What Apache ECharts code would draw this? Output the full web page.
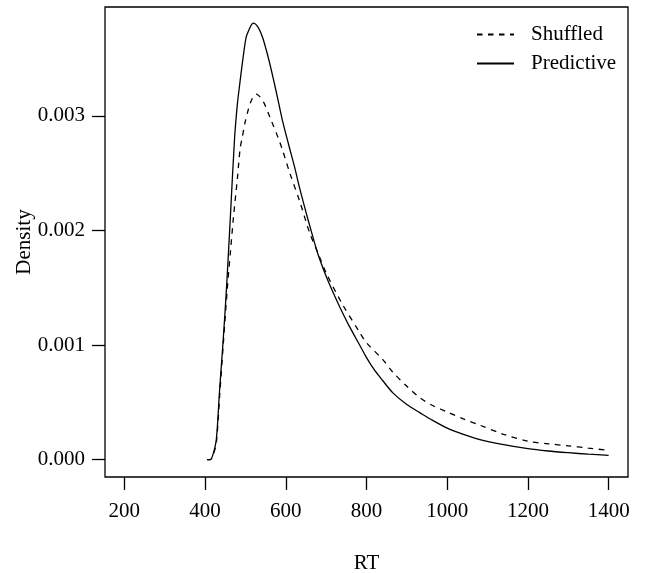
<!DOCTYPE html>
<html>
<head>
<meta charset="utf-8">
<script src="https://cdn.jsdelivr.net/npm/echarts@6/dist/echarts.min.js"></script>
<style>
  html, body { margin: 0; padding: 0; background: #fff; }
  #chart { width: 646px; height: 573px; }
</style>
</head>
<body>
<div id="chart"></div>
<script>
var myChart = echarts.init(document.getElementById("chart"));

// values
const xTicks = [200, 400, 600, 800, 1000, 1200, 1400];
const yTicks = [0, 0.001, 0.002, 0.003];

const predRT = [
  405, 413, 420, 428, 436, 445, 453, 463, 473, 480, 487, 495, 502, 510, 516,
  521, 528, 535, 543, 552, 560, 570, 580, 593, 607, 622, 635, 650, 665, 680,
  700, 717, 734, 758, 783, 800, 820, 840, 866, 900, 932, 965, 1000, 1040,
  1081, 1140, 1200, 1250, 1300, 1350, 1400,
];
const predDensity = [
  0, 0, 0.00005, 0.00018, 0.00061, 0.00105, 0.00149, 0.00214, 0.0028,
  0.0031, 0.00331, 0.00353, 0.00369, 0.00376, 0.0038, 0.00381, 0.00379,
  0.00375, 0.00368, 0.00357, 0.00346, 0.00331, 0.00315, 0.00294, 0.00275,
  0.00255, 0.00236, 0.00216, 0.00197, 0.00179, 0.0016, 0.00146, 0.00133,
  0.00116, 0.001, 0.00089, 0.00078, 0.00069, 0.00058, 0.00048, 0.00041,
  0.00034, 0.000275, 0.00022, 0.000175, 0.00013, 0.000095, 0.000075,
  0.00006, 0.000047, 0.000037,
];

const shufRT = [
  405, 413, 420, 428, 436, 445, 455, 463, 471, 480, 487, 492, 499, 506, 513,
  520, 527, 535, 545, 556, 564, 581, 593, 610, 634, 659, 680, 700, 738, 783,
  800, 841, 866, 900, 932, 965, 1000, 1040, 1081, 1140, 1200, 1250, 1300,
  1350, 1400,
];
const shufDensity = [
  0, 0, 0.00004, 0.00015, 0.00055, 0.001, 0.00149, 0.00182, 0.00214,
  0.00245, 0.00272, 0.00281, 0.00294, 0.00304, 0.00312, 0.00317, 0.00319,
  0.00317, 0.00312, 0.00303, 0.00296, 0.00281, 0.00269, 0.0025, 0.00226,
  0.00198, 0.0018, 0.00163, 0.00137, 0.00111, 0.00102, 0.00087, 0.00076,
  0.00064, 0.00054, 0.00047, 0.000415, 0.000355, 0.0003, 0.00022, 0.00016,
  0.000138, 0.00012, 0.0001, 0.000081,
];

const font = "Liberation Serif";

function pairs(xs, ys) {
  return xs.map((x, i) => [x, ys[i]]);
}

const option = {
  animation: false,
  backgroundColor: "#fff",
  textStyle: { fontFamily: font, color: "#000" },
  grid: {
    left: 105,
    right: 18,
    top: 7,
    bottom: 96,
    outerBoundsMode: "none",
    containLabel: false,
    show: true,
    borderColor: "#000",
    borderWidth: 1.3,
    backgroundColor: "transparent",
  },
  legend: {
    orient: "vertical",
    left: 471,
    top: 19,
    itemWidth: 37,
    itemHeight: 14,
    itemGap: 8,
    itemStyle: { opacity: 0 },
    textStyle: {
      fontFamily: font,
      fontSize: 21,
      color: "#000",
      lineHeight: 21,
      padding: [0, 0, 0, 12],
    },
    data: ["Shuffled", "Predictive"],
  },
  xAxis: {
    type: "value",
    min: 152,
    max: 1448,
    name: "RT",
    nameLocation: "middle",
    nameGap: 76,
    nameMoveOverlap: false,
    nameTextStyle: { fontFamily: font, fontSize: 21, color: "#000" },
    splitLine: { show: false },
    axisLine: { show: false, onZero: false },
    axisTick: {
      show: true,
      length: 13,
      lineStyle: { color: "#000", width: 1.3 },
      customValues: xTicks,
    },
    axisLabel: {
      fontFamily: font,
      fontSize: 21,
      color: "#000",
      margin: 24,
      customValues: xTicks,
      formatter: (v) => String(v),
    },
  },
  yAxis: {
    type: "value",
    min: -0.000152,
    max: 0.00395,
    name: "Density",
    nameLocation: "middle",
    nameGap: 70,
    nameMoveOverlap: false,
    nameTextStyle: { fontFamily: font, fontSize: 21, color: "#000" },
    splitLine: { show: false },
    axisLine: { show: false, onZero: false },
    axisTick: {
      show: true,
      length: 13,
      lineStyle: { color: "#000", width: 1.3 },
      customValues: yTicks,
    },
    axisLabel: {
      fontFamily: font,
      fontSize: 21,
      color: "#000",
      margin: 20,
      customValues: yTicks,
      formatter: (v) => v.toFixed(3),
    },
  },
  series: [
    {
      name: "Shuffled",
      type: "line",
      data: pairs(shufRT, shufDensity),
      symbol: "none",
      smooth: 0.3,
      color: "#000",
      lineStyle: { color: "#000", width: 1.3, type: [5.5, 5.5] },
    },
    {
      name: "Predictive",
      type: "line",
      data: pairs(predRT, predDensity),
      symbol: "none",
      smooth: 0.3,
      color: "#000",
      lineStyle: { color: "#000", width: 1.3 },
    },
  ],
};

myChart.setOption(option);
</script>
</body>
</html>
